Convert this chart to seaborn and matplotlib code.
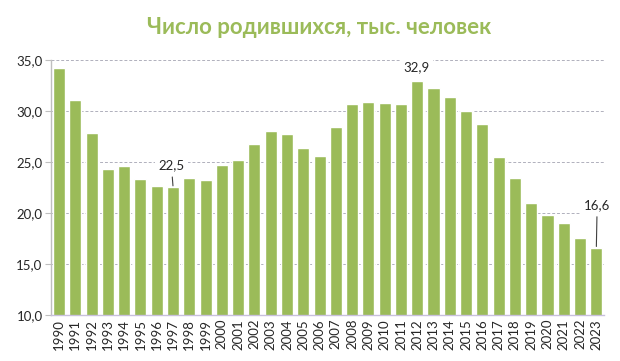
import matplotlib
matplotlib.use("Agg")
import matplotlib.pyplot as plt
import numpy as np
import pandas as pd
import seaborn as sns
from matplotlib.ticker import FuncFormatter, FixedLocator

# Data
years = [str(y) for y in range(1990, 2024)]
births = [34.2, 31.1, 27.8, 24.3, 24.6, 23.3, 22.6, 22.5, 23.4, 23.2,
          24.7, 25.2, 26.8, 28.0, 27.7, 26.4, 25.6, 28.4, 30.7, 30.9,
          30.8, 30.7, 32.9, 32.2, 31.4, 30.0, 28.7, 25.5, 23.4, 21.0,
          19.8, 19.0, 17.5, 16.6]
y_ticks = [10, 15, 20, 25, 30, 35]
title = "Число родившихся, тыс. человек"

green = "#9BBB59"

sns.set_style("white")
plt.rcParams['font.family'] = ['Lato', 'DejaVu Sans']

df = pd.DataFrame({"year": years, "births": births})

fig = plt.figure(figsize=(6.2, 3.61), dpi=100)
ax = fig.add_axes([0.082, 0.128, 0.893, 0.706])

sns.barplot(data=df, x="year", y="births", color=green, saturation=1,
            width=0.74, ax=ax, zorder=2)

ax.set_ylim(10, 35)
ax.set_xlim(-0.5, len(years) - 0.5)
ax.set_yticks(y_ticks)
ax.yaxis.set_major_formatter(FuncFormatter(lambda v, _: f"{v:.1f}".replace(".", ",")))
ax.grid(axis="y", color="#B0B0BC", linestyle=(0, (3, 2)), linewidth=0.7, zorder=0)
ax.set_axisbelow(True)
ax.set_xlabel("")
ax.set_ylabel("")

for s in ["top", "right"]:
    ax.spines[s].set_visible(False)
ax.spines["left"].set_color("#BFBFBF")
ax.spines["bottom"].set_color("#C8C0DC")
ax.spines["left"].set_linewidth(1)
ax.spines["bottom"].set_linewidth(1)

ax.tick_params(axis="x", which="major", length=0, labelsize=9.5, rotation=90, pad=3)
ax.xaxis.set_minor_locator(FixedLocator(np.arange(-0.5, len(years), 1)))
ax.tick_params(axis="x", which="minor", length=4, color="#C8C0DC", direction="out")
ax.tick_params(axis="y", which="major", length=4, color="#BFBFBF", labelsize=9.5, pad=2, left=True)
for lab in ax.get_xticklabels() + ax.get_yticklabels():
    lab.set_color("#262626")

# Annotations with leader lines
bbox = dict(boxstyle="square,pad=0.25", fc="white", ec="none")
i97 = years.index("1997")
ax.annotate("22,5", xy=(i97, births[i97] + 0.15), xytext=(i97 - 0.1, 24.7),
            ha="center", va="center", fontsize=9.5, color="#262626", bbox=bbox,
            arrowprops=dict(arrowstyle="-", color="#404040", lw=0.8, shrinkA=2, shrinkB=0))
i12 = years.index("2012")
ax.text(i12 - 0.05, 34.3, "32,9", ha="center", va="center", fontsize=9.5,
        color="#262626", bbox=bbox, zorder=3)
i23 = years.index("2023")
ax.annotate("16,6", xy=(i23, births[i23] + 0.1), xytext=(i23 + 0.05, 20.8),
            ha="center", va="center", fontsize=9.5, color="#262626", bbox=bbox,
            arrowprops=dict(arrowstyle="-", color="#404040", lw=0.8, shrinkA=2, shrinkB=0))

fig.text(0.515, 0.925, title, ha="center", va="center", fontsize=16,
         fontweight="bold", color=green)

fig.savefig("out.png", dpi=100)
